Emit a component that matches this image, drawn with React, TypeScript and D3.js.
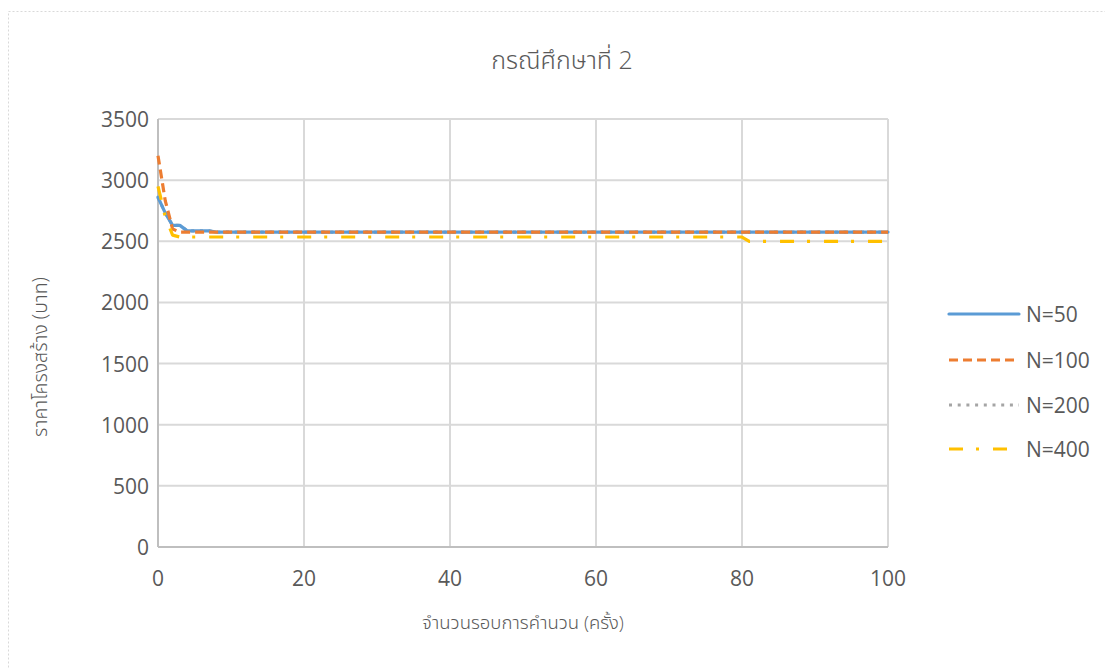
import React, { useEffect, useRef } from "react";
import * as d3 from "d3";

// Iteration / cost breakpoints for each population size (straight segments between them)
const iterations50 = [0, 1, 2, 3, 4, 7, 8, 100];
const costs50 = [2860, 2730, 2630, 2630, 2585, 2585, 2575, 2575];

const iterations100 = [0, 1, 2, 3, 100];
const costs100 = [3200, 2830, 2600, 2575, 2575];

const iterations200 = [0, 1, 2, 3, 4, 7, 8, 100];
const costs200 = [2860, 2730, 2630, 2630, 2585, 2585, 2575, 2575];

const iterations400 = [0, 1, 2, 3, 80, 81, 100];
const costs400 = [2950, 2700, 2550, 2535, 2535, 2500, 2500];

const seriesNames = ["N=50", "N=100", "N=200", "N=400"];
const xTicks = [0, 20, 40, 60, 80, 100];
const yTicks = [0, 500, 1000, 1500, 2000, 2500, 3000, 3500];

const chartTitle = "กรณีศึกษาที่ 2";
const xTitle = "จำนวนรอบการคำนวน (ครั้ง)";
const yTitle = "ราคาโครงสร้าง (บาท)";

const W = 1105;
const H = 669;
const FONT = "'Open Sans', 'Noto Sans', 'Noto Sans Thai', 'DejaVu Sans', sans-serif";
const TEXT = "#595959";

type Style = { color: string; dash: string | null; cap: string };
const styles: Style[] = [
  { color: "#5B9BD5", dash: null, cap: "round" },
  { color: "#ED7D31", dash: "9,5", cap: "butt" },
  { color: "#A5A5A5", dash: "3,5.7", cap: "butt" },
  { color: "#FFC000", dash: "14,13,3,14", cap: "butt" },
];

export default function App() {
  const ref = useRef<SVGSVGElement | null>(null);

  useEffect(() => {
    const svg = d3.select(ref.current);
    svg.selectAll("*").remove();

    // chart frame
    svg
      .append("rect")
      .attr("x", 8.5)
      .attr("y", 11.5)
      .attr("width", 1100)
      .attr("height", 670)
      .attr("fill", "#fff")
      .attr("stroke", "#D9D9D9")
      .attr("stroke-dasharray", "2,2");

    const x = d3.scaleLinear().domain([0, 100]).range([158, 888]);
    const y = d3.scaleLinear().domain([0, 3500]).range([547, 119]);

    const g = svg.append("g");

    // gridlines
    g.selectAll("line.h")
      .data(yTicks.filter((t) => t > 0))
      .join("line")
      .attr("x1", x(0))
      .attr("x2", x(100))
      .attr("y1", (d) => y(d))
      .attr("y2", (d) => y(d))
      .attr("stroke", "#D9D9D9")
      .attr("stroke-width", 2);
    g.selectAll("line.v")
      .data(xTicks.filter((t) => t > 0))
      .join("line")
      .attr("x1", (d) => x(d))
      .attr("x2", (d) => x(d))
      .attr("y1", y(0))
      .attr("y2", y(3500))
      .attr("stroke", "#D9D9D9")
      .attr("stroke-width", 2);

    // axis lines
    g.append("line")
      .attr("x1", x(0))
      .attr("x2", x(100))
      .attr("y1", y(0))
      .attr("y2", y(0))
      .attr("stroke", "#BFBFBF")
      .attr("stroke-width", 2);
    g.append("line")
      .attr("x1", x(0))
      .attr("x2", x(0))
      .attr("y1", y(0))
      .attr("y2", y(3500))
      .attr("stroke", "#BFBFBF")
      .attr("stroke-width", 2);

    // tick labels
    g.selectAll("text.yt")
      .data(yTicks)
      .join("text")
      .attr("x", 149)
      .attr("y", (d) => y(d))
      .attr("text-anchor", "end")
      .attr("dominant-baseline", "central")
      .attr("font-family", FONT)
      .attr("font-size", 21)
      .attr("fill", TEXT)
      .text((d) => String(d));
    g.selectAll("text.xt")
      .data(xTicks)
      .join("text")
      .attr("x", (d) => x(d))
      .attr("y", 578)
      .attr("text-anchor", "middle")
      .attr("dominant-baseline", "central")
      .attr("font-family", FONT)
      .attr("font-size", 21)
      .attr("fill", TEXT)
      .text((d) => String(d));

    // series
    const allSeries = [
      iterations50.map((it, i) => [it, costs50[i]] as [number, number]),
      iterations100.map((it, i) => [it, costs100[i]] as [number, number]),
      iterations200.map((it, i) => [it, costs200[i]] as [number, number]),
      iterations400.map((it, i) => [it, costs400[i]] as [number, number]),
    ];
    const line = d3
      .line<[number, number]>()
      .x((d) => x(d[0]))
      .y((d) => y(d[1]));

    // N=200 sits underneath the N=50 trace
    const drawOrder = [2, 0, 1, 3];
    drawOrder.forEach((i) => {
      const s = styles[i];
      const p = g
        .append("path")
        .attr("d", line(allSeries[i]) as string)
        .attr("fill", "none")
        .attr("stroke", s.color)
        .attr("stroke-width", 3.2)
        .attr("stroke-linejoin", "round")
        .attr("stroke-linecap", s.cap);
      if (s.dash) p.attr("stroke-dasharray", s.dash);
    });

    // legend
    const legendY = [314, 360, 405, 449];
    seriesNames.forEach((name, i) => {
      const s = styles[i];
      const l = svg
        .append("line")
        .attr("x1", 949)
        .attr("x2", 1019)
        .attr("y1", legendY[i])
        .attr("y2", legendY[i])
        .attr("stroke", s.color)
        .attr("stroke-width", 3.2)
        .attr("stroke-linecap", s.cap);
      if (s.dash) l.attr("stroke-dasharray", s.dash);
      svg
        .append("text")
        .attr("x", 1026)
        .attr("y", legendY[i])
        .attr("dominant-baseline", "central")
        .attr("font-family", FONT)
        .attr("font-size", 21)
        .attr("fill", TEXT)
        .text(name);
    });

    // titles
    svg
      .append("text")
      .attr("x", 562)
      .attr("y", 59)
      .attr("text-anchor", "middle")
      .attr("dominant-baseline", "central")
      .attr("font-family", FONT)
      .attr("font-size", 25)
      .attr("font-weight", 300)
      .attr("fill", TEXT)
      .text(chartTitle);
    svg
      .append("text")
      .attr("x", 523)
      .attr("y", 621)
      .attr("text-anchor", "middle")
      .attr("dominant-baseline", "central")
      .attr("font-family", FONT)
      .attr("font-size", 18.5)
      .attr("font-weight", 300)
      .attr("fill", TEXT)
      .text(xTitle);
    svg
      .append("text")
      .attr("transform", "translate(39,357) rotate(-90)")
      .attr("text-anchor", "middle")
      .attr("dominant-baseline", "central")
      .attr("font-family", FONT)
      .attr("font-size", 19.5)
      .attr("font-weight", 300)
      .attr("fill", TEXT)
      .text(yTitle);
  }, []);

  return (
    <svg
      ref={ref}
      width={W}
      height={H}
      style={{ position: "absolute", left: 0, top: 0, background: "#fff" }}
    />
  );
}
